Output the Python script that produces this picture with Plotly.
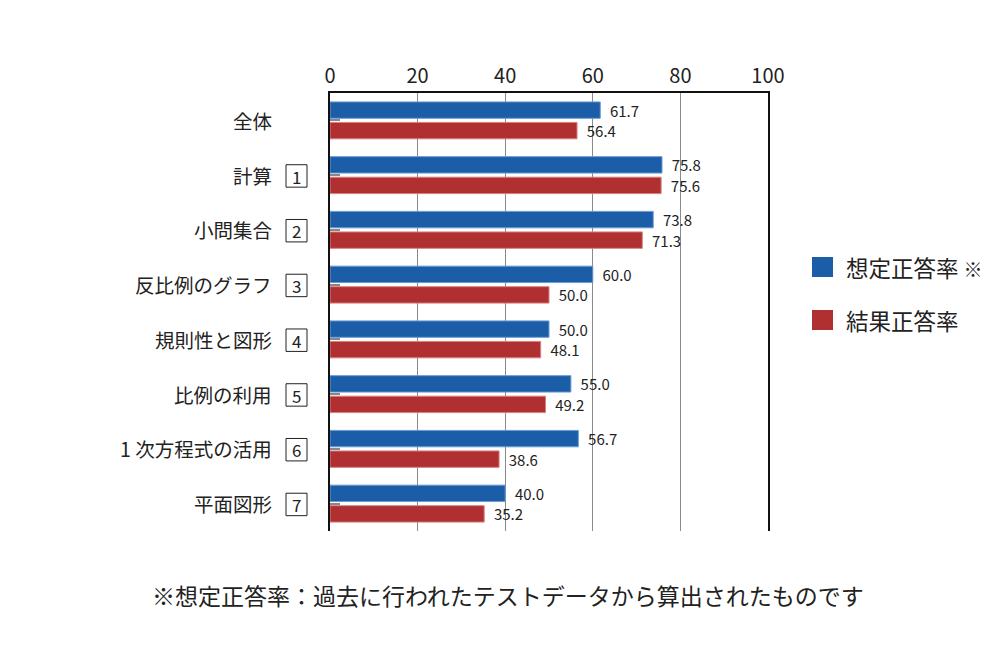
import plotly.graph_objects as go

categories = ["全体", "計算", "小問集合", "反比例のグラフ", "規則性と図形", "比例の利用", "1 次方程式の活用", "平面図形"]
box_numbers = ["", "1", "2", "3", "4", "5", "6", "7"]
expected = [61.7, 75.8, 73.8, 60.0, 50.0, 55.0, 56.7, 40.0]
actual = [56.4, 75.6, 71.3, 50.0, 48.1, 49.2, 38.6, 35.2]
series_names = ["想定正答率", "結果正答率"]
x_ticks = [0, 20, 40, 60, 80, 100]

BLUE = "#1b5ea7"
RED = "#b02f31"
FONT = "Noto Sans CJK JP"

L, T, W, H = 330, 93, 438, 438


def px_x(p):
    return (p - L) / W


def px_y(p):
    return (T + H - p) / H


fig = go.Figure()
idx = list(range(len(categories)))
for vals, name, col, lcol in [(expected, series_names[0], BLUE, "#6d9bd3"),
                              (actual, series_names[1], RED, "#d98080")]:
    fig.add_trace(go.Bar(
        y=idx, x=vals, orientation="h", name=name,
        marker=dict(color=col, line=dict(color=lcol, width=1)),
        text=[f"{v:.1f}" for v in vals], texttemplate="  %{text}",
        textposition="outside", cliponaxis=False, constraintext="none",
        textfont=dict(size=15, color="#222", family=FONT),
    ))

annotations = []
shapes = []
for i, (c, n) in enumerate(zip(categories, box_numbers)):
    annotations.append(dict(x=px_x(274), y=i, xref="paper", yref="y", text=c, showarrow=False,
                            xanchor="right", yanchor="middle",
                            font=dict(size=19.5, color="#222", family=FONT)))
    if n:
        shapes.append(dict(type="rect", xref="paper", yref="y", x0=px_x(286), x1=px_x(307),
                           y0=i - 0.19, y1=i + 0.22, line=dict(color="#222", width=1),
                           fillcolor="white"))
        annotations.append(dict(x=px_x(296.5), y=i + 0.02, xref="paper", yref="y", text=n, showarrow=False,
                                xanchor="center", yanchor="middle",
                                font=dict(size=17, color="#222", family=FONT)))

legend_items = [(series_names[0] + " <span style='font-size:19px'>※</span>", BLUE, 267),
                (series_names[1], RED, 320)]
for text, col, ypx in legend_items:
    shapes.append(dict(type="rect", xref="paper", yref="paper",
                       x0=px_x(812), x1=px_x(833),
                       y0=px_y(ypx + 10), y1=px_y(ypx - 10),
                       fillcolor=col, line=dict(width=0)))
    annotations.append(dict(xref="paper", yref="paper", x=px_x(844),
                            y=px_y(ypx), text=text, showarrow=False,
                            xanchor="left", yanchor="middle",
                            font=dict(size=22.5, color="#222", family=FONT)))

annotations.append(dict(xref="paper", yref="paper", x=px_x(508), y=px_y(595),
                        text="※想定正答率：過去に行われたテストデータから算出されたものです",
                        showarrow=False, xanchor="center", yanchor="middle",
                        font=dict(size=23, color="#222", family=FONT)))

fig.update_layout(
    width=1000, height=660,
    margin=dict(l=L, r=1000 - L - W, t=T, b=660 - T - H),
    paper_bgcolor="white", plot_bgcolor="white",
    barmode="group", bargap=0.25, bargroupgap=0.2,
    showlegend=False,
    font=dict(family=FONT, color="#222"),
    annotations=annotations, shapes=shapes,
    xaxis=dict(side="top", range=[0, 100], tickvals=x_ticks,
               tickfont=dict(size=20, color="#222", family=FONT),
               showgrid=True, gridcolor="#8a8a8a", gridwidth=1,
               zeroline=False, showline=True, linecolor="#111", linewidth=1.5,
               mirror=False, ticks="", fixedrange=True),
    yaxis=dict(range=[7.5, -0.5], tickvals=idx, showticklabels=False,
               ticks="inside", ticklen=10, tickcolor="#888", tickwidth=2,
               showgrid=False, zeroline=False, showline=True, linecolor="#111",
               linewidth=1.5, mirror=True),
)

fig.write_html("out.html", config={"displayModeBar": False},
               post_script="document.body.style.margin='0';")
